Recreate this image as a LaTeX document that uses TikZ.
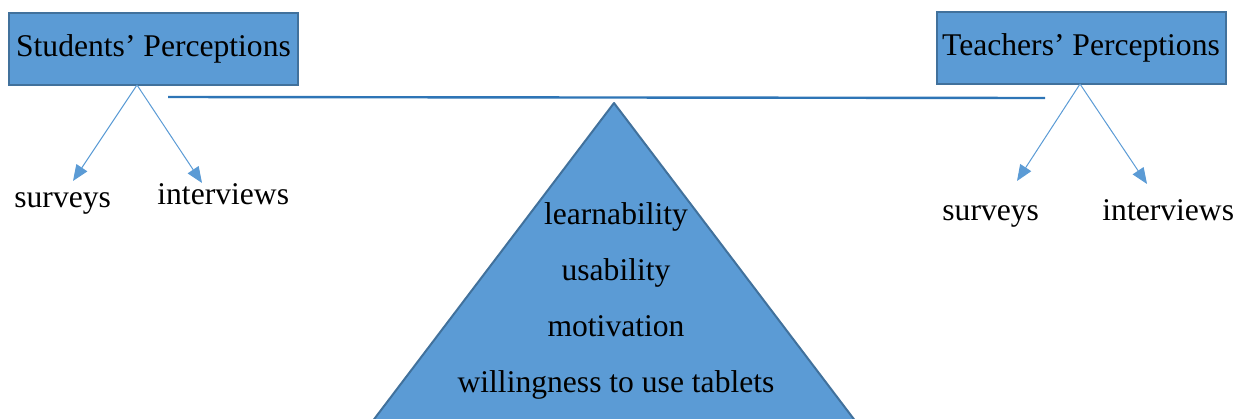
\documentclass[tikz,border=0pt]{standalone}
\usepackage{fontspec}
\setmainfont{Liberation Serif}
\usetikzlibrary{arrows.meta}
\definecolor{boxfill}{RGB}{91,155,213}
\definecolor{boxline}{RGB}{65,113,156}
\definecolor{beamblue}{RGB}{46,117,182}
\definecolor{arrowblue}{RGB}{91,155,213}
\tikzset{
  txt/.style={font=\fontsize{15.8}{19}\selectfont, inner sep=0pt, text=black},
  groupbox/.style={txt, draw=boxline, fill=boxfill, line width=1pt,
    minimum width=144.5pt, minimum height=36pt},
  beam/.style={draw=beamblue, line width=1.2pt},
  branch/.style={draw=arrowblue, line width=0.5pt,
    -{Triangle[length=8pt,width=6.5pt]}},
  fulcrum/.style={fill=boxfill, draw=boxline, line width=1pt, line join=round}
}
\begin{document}
\begin{tikzpicture}[x=0.5pt,y=-0.5pt]
\useasboundingbox (0,0) rectangle (1245,418);
\clip (0,0) rectangle (1245,418);

% fulcrum
\path[fulcrum] (614,103) -- (375,418) -- (360,438) -- (868,438) -- (853,418) -- cycle;
\node[txt, anchor=base] (t1) at (616,224) {learnability};
\node[txt, anchor=base] (t2) at (616,280) {usability};
\node[txt, anchor=base] (t3) at (616,336) {motivation};
\node[txt, anchor=base] (t4) at (616,392) {willingness to use tablets};

% beam
\coordinate (beamL) at (168,97);
\coordinate (beamR) at (1045,98);
\draw[beam] (beamL) -- (beamR);

% students side
\node[groupbox] (sbox) at (153.5,49) {Students’ Perceptions};
\node[txt, anchor=base west] (ssurv) at (14,207) {surveys};
\node[txt, anchor=base west] (sint) at (157,204) {interviews};
\coordinate (sfork) at (137,85);
\coordinate (ssurvtip) at (73,181);
\coordinate (sinttip) at (202,183);
\draw[branch] (sfork) -- (ssurvtip);
\draw[branch] (sfork) -- (sinttip);

% teachers side
\node[groupbox] (tbox) at (1081,48) {Teachers’ Perceptions};
\node[txt, anchor=base west] (tsurv) at (942,220) {surveys};
\node[txt, anchor=base west] (tint) at (1102,220) {interviews};
\coordinate (tfork) at (1080,84);
\coordinate (tsurvtip) at (1017,181);
\coordinate (tinttip) at (1147,184);
\draw[branch] (tfork) -- (tsurvtip);
\draw[branch] (tfork) -- (tinttip);
\end{tikzpicture}
\end{document}
